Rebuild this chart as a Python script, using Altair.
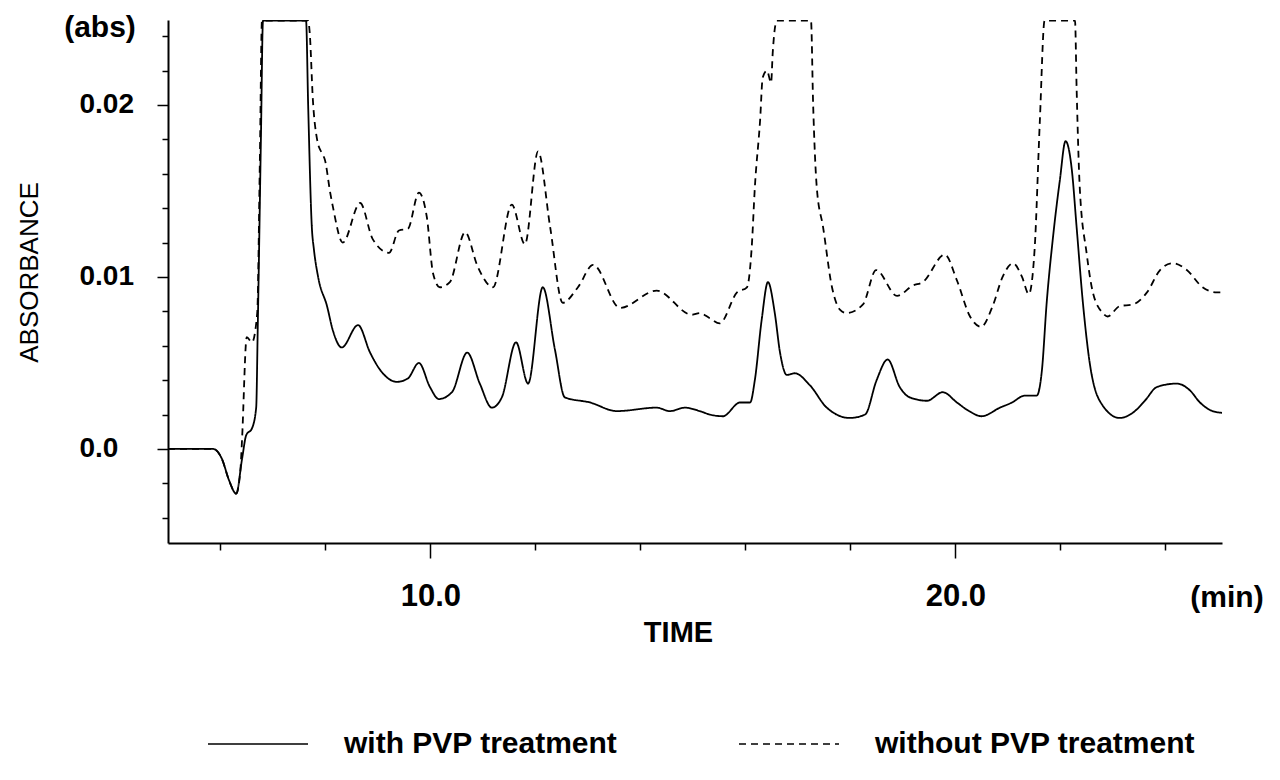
import altair as alt
import pandas as pd

# ---- data ----
series_names = ["with PVP treatment", "without PVP treatment"]

solid_t = [5.00, 5.86, 6.03, 6.16, 6.30, 6.41, 6.49, 6.60, 6.68, 6.71, 6.77, 6.81,
           7.63, 7.67, 7.74, 7.78, 7.86, 8.03, 8.14, 8.31, 8.62, 8.85, 9.04, 9.36,
           9.57, 9.78, 9.99, 10.16, 10.41, 10.70, 10.94, 11.17, 11.36, 11.63, 11.86,
           12.14, 12.37, 12.56, 13.04, 13.55, 14.31, 14.56, 14.85, 15.13, 15.32, 15.57,
           15.90, 16.09, 16.18, 16.31, 16.43, 16.56, 16.66, 16.79, 16.94, 17.23, 17.55,
           17.99, 18.28, 18.50, 18.71, 18.94, 19.13, 19.46, 19.76, 20.03, 20.26, 20.50,
           20.85, 21.08, 21.32, 21.55, 21.65, 21.74, 21.86, 21.99, 22.10, 22.22, 22.31,
           22.43, 22.56, 22.75, 23.13, 23.38, 23.61, 23.84, 24.22, 24.47, 24.66, 24.90,
           25.08]
solid_v = [0.0, 0.0, -0.0006, -0.0018, -0.0026, -0.0006, 0.0008, 0.0012, 0.0024, 0.0071, 0.0180, 0.0249,
           0.0249, 0.0200, 0.0129, 0.0116, 0.0100, 0.0083, 0.0069, 0.0059, 0.0072, 0.0056, 0.0046, 0.0039,
           0.0041, 0.0050, 0.0036, 0.0029, 0.0033, 0.0056, 0.0038, 0.0024, 0.0030, 0.0062, 0.0038,
           0.0094, 0.0058, 0.0030, 0.0027, 0.0022, 0.0024, 0.0022, 0.0024, 0.0022, 0.0020, 0.0019,
           0.0027, 0.0027, 0.0040, 0.0075, 0.0097, 0.0079, 0.0056, 0.0043, 0.0044, 0.0037, 0.0024,
           0.0018, 0.0020, 0.0040, 0.0052, 0.0036, 0.0030, 0.0028, 0.0033, 0.0027, 0.0022, 0.0019,
           0.0024, 0.0027, 0.0031, 0.0031, 0.0046, 0.0085, 0.0123, 0.0156, 0.0179, 0.0162, 0.0129,
           0.0085, 0.0050, 0.0028, 0.0018, 0.0021, 0.0028, 0.0036, 0.0038, 0.0034, 0.0027, 0.0022,
           0.0021]

dashed_t = [5.00, 5.86, 6.03, 6.16, 6.30, 6.38, 6.41, 6.50, 6.60, 6.70, 6.75, 6.79,
            7.67, 7.70, 7.76, 7.84, 7.93, 7.99, 8.09, 8.14, 8.33, 8.66, 8.90, 9.21,
            9.40, 9.57, 9.78, 9.93, 10.05, 10.18, 10.37, 10.66, 10.90, 11.19, 11.55,
            11.80, 12.05, 12.28, 12.52, 12.81, 13.10, 13.61, 14.31, 14.98, 15.13, 15.32,
            15.51, 15.84, 16.03, 16.12, 16.18, 16.28, 16.33, 16.41, 16.49, 16.52, 16.60,
            17.25, 17.29, 17.36, 17.48, 17.65, 17.80, 17.93, 18.24, 18.49, 18.89, 19.19,
            19.38, 19.80, 20.03, 20.28, 20.49, 20.71, 20.90, 21.10, 21.27, 21.40, 21.51,
            21.61, 21.70, 22.28, 22.31, 22.37, 22.50, 22.62, 22.81, 22.90, 23.13, 23.38,
            23.65, 23.90, 24.14, 24.41, 24.71, 24.98, 25.08]
dashed_v = [0.0, 0.0, -0.0006, -0.0018, -0.0026, -0.0012, 0.0005, 0.0065, 0.0062, 0.0079, 0.0168, 0.0249,
            0.0249, 0.0242, 0.0203, 0.0180, 0.0172, 0.0168, 0.0149, 0.0141, 0.0120, 0.0143, 0.0122, 0.0114,
            0.0127, 0.0128, 0.0149, 0.0135, 0.0102, 0.0094, 0.0097, 0.0126, 0.0106, 0.0094, 0.0142,
            0.0119, 0.0173, 0.0129, 0.0085, 0.0094, 0.0107, 0.0082, 0.0092, 0.0078, 0.0079, 0.0076,
            0.0073, 0.0091, 0.0094, 0.0117, 0.0152, 0.0191, 0.0216, 0.0220, 0.0213, 0.0230, 0.0249,
            0.0249, 0.0201, 0.0152, 0.0129, 0.0094, 0.0081, 0.0079, 0.0084, 0.0104, 0.0089, 0.0095,
            0.0097, 0.0113, 0.0098, 0.0077, 0.0071, 0.0083, 0.0100, 0.0108, 0.0100, 0.0090, 0.0116,
            0.0191, 0.0249, 0.0249, 0.0210, 0.0152, 0.0114, 0.0091, 0.0079, 0.0077, 0.0083, 0.0084,
            0.0091, 0.0104, 0.0108, 0.0104, 0.0094, 0.0091, 0.0091]

# axis ticks and labels
x_ticks = [6, 8, 10, 12, 14, 16, 18, 20, 22, 24]
x_major = [10, 20]
x_major_labels = ["10.0", "20.0"]
y_ticks = [-0.004, -0.002, 0.0, 0.002, 0.004, 0.006, 0.008, 0.01, 0.012, 0.014,
           0.016, 0.018, 0.02, 0.022, 0.024]
y_major = [0.0, 0.01, 0.02]
y_major_labels = ["0.0", "0.01", "0.02"]

FONT = "Liberation Sans"
WEIGHT = "bold"

df = pd.concat([
    pd.DataFrame({"t": solid_t, "v": solid_v, "series": series_names[0]}),
    pd.DataFrame({"t": dashed_t, "v": dashed_v, "series": series_names[1]}),
])


def js_list(vals):
    return "[" + ",".join(repr(v) for v in vals) + "]"


def js_str_list(vals):
    return "[" + ",".join("'" + v + "'" for v in vals) + "]"


def major_test(vals):
    return f"indexof({js_list(vals)}, datum.value) >= 0"


def label_expr(vals, labels):
    return (f"indexof({js_list(vals)}, datum.value) >= 0 ? "
            f"{js_str_list(labels)}[indexof({js_list(vals)}, datum.value)] : ''")


x_axis = alt.Axis(
    values=x_ticks,
    tickSize={"condition": {"test": major_test(x_major), "value": 15}, "value": 7},
    labelExpr=label_expr(x_major, x_major_labels),
    labelFontSize=31, labelFont=FONT, labelFontWeight=WEIGHT, labelPadding=38,
    labelBaseline="middle", labelOverlap=False, labelFlush=False,
    title="TIME", titleFontSize=29, titleFont=FONT, titleFontWeight=WEIGHT,
    titleX=510, titleY=89, titleBaseline="middle", titleAlign="center",
)
y_axis = alt.Axis(
    values=y_ticks,
    tickSize={"condition": {"test": major_test(y_major), "value": 11}, "value": 6},
    labelExpr=label_expr(y_major, y_major_labels),
    labelFontSize=28, labelFont=FONT, labelFontWeight=WEIGHT, labelAlign="left", labelPadding=78,
    labelBaseline="middle", labelOverlap=False, labelFlush=False,
    title="ABSORBANCE", titleFontSize=26, titleFont=FONT, titleFontWeight="normal",
    titleX=-139, titleY=252, titleAngle=270, titleBaseline="middle", titleAlign="center",
)

lines = alt.Chart(df).mark_line(color="black", strokeWidth=1.8, interpolate="monotone", clip=True).encode(
    x=alt.X("t:Q", scale=alt.Scale(domain=[5, 25.08], nice=False, zero=False), axis=x_axis),
    y=alt.Y("v:Q", scale=alt.Scale(domain=[-0.00547, 0.02494], nice=False, zero=False), axis=y_axis),
    strokeDash=alt.StrokeDash(
        "series:N",
        scale=alt.Scale(domain=series_names, range=[[1, 0], [7, 5]]),
        legend=alt.Legend(
            title=None, orient="none", legendX=39, legendY=673, direction="horizontal",
            symbolType="stroke", symbolSize=10000, symbolStrokeWidth=1.5,
            symbolStrokeColor="black", labelFontSize=30, labelFont=FONT, labelFontWeight=WEIGHT,
            labelColor="black", labelOffset=35, columnPadding=118, labelLimit=600,
        ),
    ),
    order=alt.Order("t:Q"),
)

unit_abs = alt.Chart(pd.DataFrame({"u": ["(abs)"]})).mark_text(
    font=FONT, fontSize=30, fontWeight=WEIGHT, color="black", align="center", baseline="middle"
).encode(x=alt.value(-68), y=alt.value(8), text="u:N")

unit_min = alt.Chart(pd.DataFrame({"u": ["(min)"]})).mark_text(
    font=FONT, fontSize=30, fontWeight=WEIGHT, color="black", align="center", baseline="middle"
).encode(x=alt.value(1059), y=alt.value(578), text="u:N")

chart = alt.layer(lines, unit_abs, unit_min).properties(
    width=1054, height=523,
    autosize=alt.AutoSizeParams(type="none"),
    padding={"left": 168, "top": 20, "right": 58, "bottom": 237},
    background="white",
).configure_view(stroke=None).configure_axis(
    domainColor="black", domainWidth=2, tickColor="black", tickWidth=1.5,
    labelColor="black", titleColor="black", grid=False,
)

chart.save("out.html", embed_options={"renderer": "svg", "actions": False})
